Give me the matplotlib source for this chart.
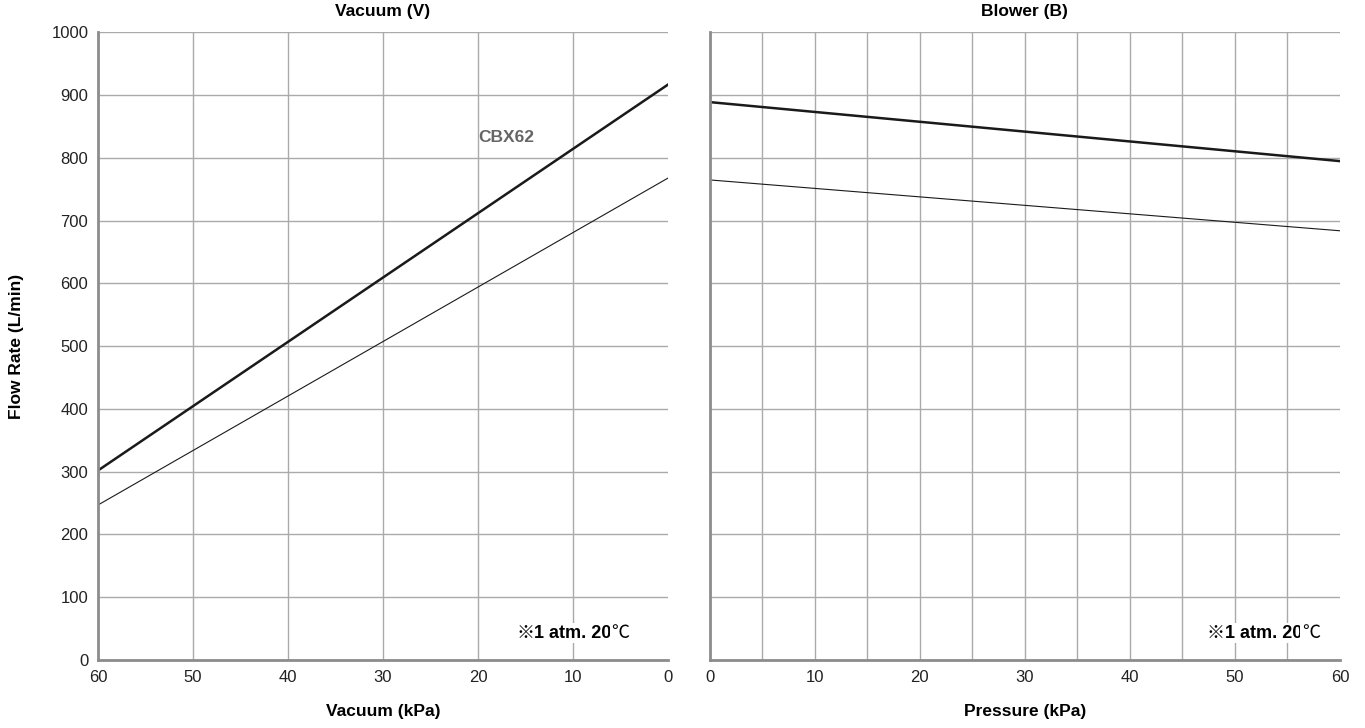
import numpy as np
from matplotlib import pyplot as plt

plt.rcParams['font.family'] = ['Liberation Sans', 'DejaVu Sans', 'Noto Sans CJK JP']

# Vacuum (V) panel, kPa vs L/min
vac_kpa = [60, 0]
vac_cbx62 = [302, 917]
vac_small = [247, 768]

# Blower (B) panel
press_kpa = [0, 60]
blow_cbx62 = [889, 795]
blow_small = [765, 684]

y_ticks = list(range(0, 1001, 100))
x_ticks = list(range(0, 61, 10))

grid_c = '#aaaaaa'
spine_c = '#8c8c8c'

fig = plt.figure(figsize=(13.65, 7.28), dpi=100)
ax1 = fig.add_axes([0.0718, 0.0934, 0.4176, 0.862])
ax2 = fig.add_axes([0.5201, 0.0934, 0.4615, 0.862])


def style(ax, xgrid):
    ax.set_ylim(0, 1000)
    ax.set_yticks(y_ticks)
    ax.set_xticks(x_ticks)
    # vertical grid lines only inside the axes (none on the far edge)
    ax.xaxis.remove_overlapping_locs = False
    ax.set_xticks(xgrid, minor=True)
    ax.grid(True, axis='y', which='major', color=grid_c, linewidth=1)
    ax.grid(True, axis='x', which='minor', color=grid_c, linewidth=1)
    ax.set_axisbelow(True)
    for s in ['top', 'right']:
        ax.spines[s].set_visible(False)
    for s in ['left', 'bottom']:
        ax.spines[s].set_color(spine_c)
        ax.spines[s].set_linewidth(2)
    ax.tick_params(which='both', length=0, labelsize=12, pad=7, labelcolor='#222222')


style(ax1, list(range(10, 60, 10)))
ax1.set_xlim(60, 0)
ax1.plot(vac_kpa, vac_cbx62, color='#1a1a1a', linewidth=1.8)
ax1.plot(vac_kpa, vac_small, color='#1a1a1a', linewidth=0.8)
ax1.text(20, 832, 'CBX62', color='#666666', fontsize=12.5, fontweight='bold',
         ha='left', va='center')
ax1.set_title('Vacuum (V)', fontsize=12.5, fontweight='bold', pad=12)
ax1.set_xlabel('Vacuum (kPa)', fontsize=12.5, fontweight='bold', labelpad=14)
ax1.set_ylabel('Flow Rate (L/min)', fontsize=12.5, fontweight='bold', labelpad=20)

style(ax2, list(range(5, 60, 5)))
ax2.set_xlim(0, 60)
ax2.tick_params(axis='y', labelleft=False)
ax2.plot(press_kpa, blow_cbx62, color='#1a1a1a', linewidth=1.8)
ax2.plot(press_kpa, blow_small, color='#1a1a1a', linewidth=0.8)
ax2.set_title('Blower (B)', fontsize=12.5, fontweight='bold', pad=12)
ax2.set_xlabel('Pressure (kPa)', fontsize=12.5, fontweight='bold', labelpad=14)


def note(ax, x):
    bb = dict(facecolor='white', edgecolor='none', pad=1)
    t1 = ax.text(x, 43, '※', fontsize=13, ha='left', va='center', bbox=bb,
                 family=['Noto Sans CJK JP', 'DejaVu Sans'])
    t2 = ax.annotate('1 atm. 20', xy=(1, 0.5), xycoords=t1, va='center',
                     fontsize=13, fontweight='bold', bbox=bb)
    ax.annotate('℃', xy=(1, 0.5), xycoords=t2, va='center', fontsize=13,
                bbox=bb, family=['Noto Sans CJK JP', 'DejaVu Sans'])


note(ax1, 16.0)
note(ax2, 47.3)

fig.savefig('out.png', dpi=100)
